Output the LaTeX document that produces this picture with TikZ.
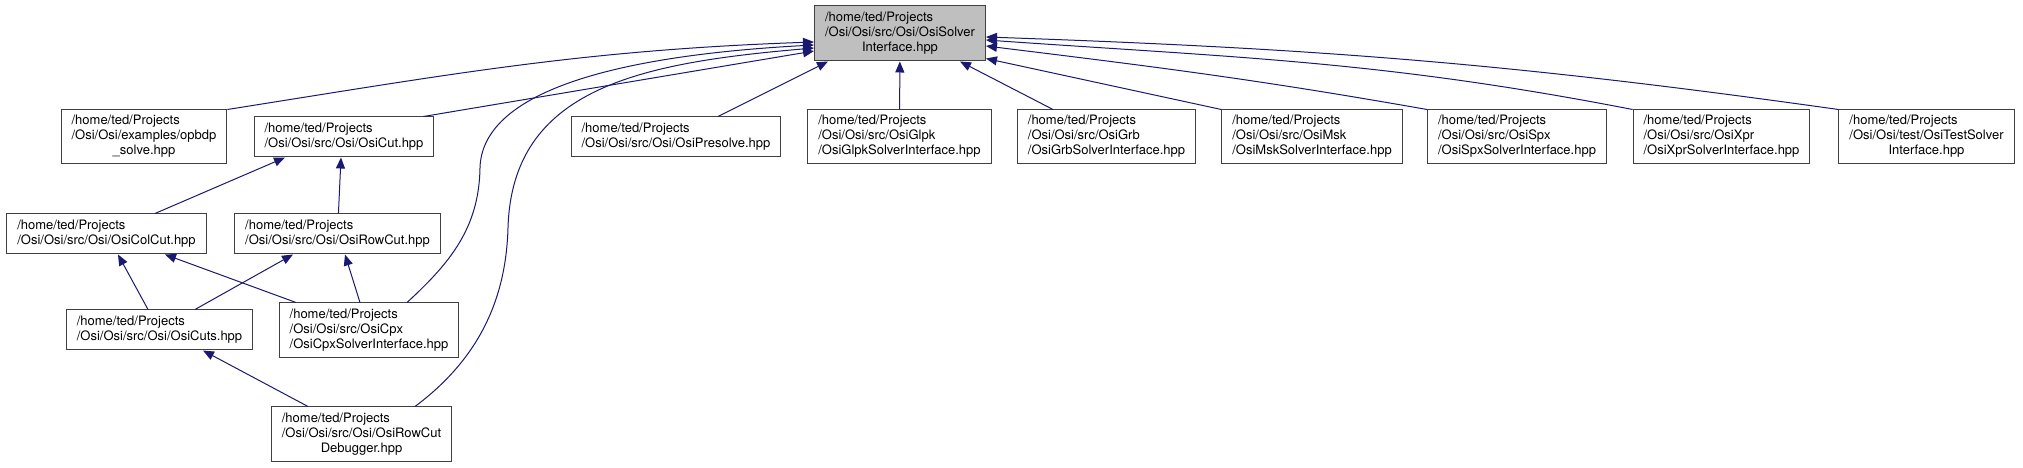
\documentclass[tikz,border=0pt]{standalone}
\usepackage{fontspec}
\setmainfont{TeX Gyre Heros}
\usepackage{tikz}
\usetikzlibrary{arrows.meta}
\usepackage{xcolor}
\definecolor{edgeblue}{HTML}{191970}
\definecolor{rootgray}{HTML}{BFBFBF}
\definecolor{boxline}{HTML}{404040}
\newcommand{\hdr}[1]{\begin{tabular}{@{}l@{}}#1\end{tabular}}
\newcommand{\ctr}[1]{\multicolumn{1}{@{}c@{}}{#1}}

\begin{document}
\begin{tikzpicture}[
  x=1pt, y=1pt,
  file/.style={draw=boxline, line width=1pt, fill=white, inner xsep=10.5pt, inner ysep=0pt, font=\fontsize{13}{15}\selectfont},
  file2/.style={file, minimum height=40pt},
  file3/.style={file, minimum height=54pt},
  dep/.style={draw=edgeblue, line width=1pt, -{Triangle[length=11pt, width=9pt]}},
]
  \useasboundingbox (0,0) rectangle (2023,468);

  % Row 0: the included header
  \node[file3, fill=rootgray, minimum height=55pt] (solver) at (900,434.5) {\hdr{/home/ted/Projects\\/Osi/Osi/src/Osi/OsiSolver\\\ctr{Interface.hpp}}};

  % Row 1: direct includers
  \node[file3] (opbdp) at (144,331) {\hdr{/home/ted/Projects\\/Osi/Osi/examples/opbdp\\\ctr{\_solve.hpp}}};
  \node[file2] (cut) at (344,331) {\hdr{/home/ted/Projects\\/Osi/Osi/src/Osi/OsiCut.hpp}};
  \node[file2] (presolve) at (676,331) {\hdr{/home/ted/Projects\\/Osi/Osi/src/Osi/OsiPresolve.hpp}};
  \node[file3] (glpk) at (899.5,331) {\hdr{/home/ted/Projects\\/Osi/Osi/src/OsiGlpk\\/OsiGlpkSolverInterface.hpp}};
  \node[file3] (grb) at (1106.5,331) {\hdr{/home/ted/Projects\\/Osi/Osi/src/OsiGrb\\/OsiGrbSolverInterface.hpp}};
  \node[file3] (msk) at (1312,331) {\hdr{/home/ted/Projects\\/Osi/Osi/src/OsiMsk\\/OsiMskSolverInterface.hpp}};
  \node[file3] (spx) at (1517,331) {\hdr{/home/ted/Projects\\/Osi/Osi/src/OsiSpx\\/OsiSpxSolverInterface.hpp}};
  \node[file3] (xpr) at (1721.5,331) {\hdr{/home/ted/Projects\\/Osi/Osi/src/OsiXpr\\/OsiXprSolverInterface.hpp}};
  \node[file3] (test) at (1926.5,331) {\hdr{/home/ted/Projects\\/Osi/Osi/test/OsiTestSolver\\\ctr{Interface.hpp}}};

  % Row 2: cut headers
  \node[file2] (colcut) at (106.5,234) {\hdr{/home/ted/Projects\\/Osi/Osi/src/Osi/OsiColCut.hpp}};
  \node[file2] (rowcut) at (337.5,234) {\hdr{/home/ted/Projects\\/Osi/Osi/src/Osi/OsiRowCut.hpp}};

  % Row 3: cuts + cplex
  \node[file2] (cuts) at (159.5,138) {\hdr{/home/ted/Projects\\/Osi/Osi/src/Osi/OsiCuts.hpp}};
  \node[file3, minimum height=55pt] (cpx) at (369,137.5) {\hdr{/home/ted/Projects\\/Osi/Osi/src/OsiCpx\\/OsiCpxSolverInterface.hpp}};

  % Row 4: debugger
  \node[file3, minimum height=55pt] (dbg) at (361.5,33.5) {\hdr{/home/ted/Projects\\/Osi/Osi/src/Osi/OsiRowCut\\\ctr{Debugger.hpp}}};

  % Edges into the solver interface
  \draw[dep] (opbdp.north east) to[out=9, in=182] ([yshift=-8.5pt]solver.west);
  \draw[dep] ([xshift=-11pt]cut.north east) -- ([yshift=-17.5pt]solver.west);
  \draw[dep] ([xshift=38pt]cpx.north) .. controls (450,205) and (479,240) .. (480,300)
    .. controls (482,375) and (610,412) .. ([yshift=-11.5pt]solver.west);
  \draw[dep] ([xshift=53.5pt]dbg.north) .. controls (480,110) and (506,170) .. (508,240)
    .. controls (512,380) and (640,405) .. ([yshift=-14.5pt]solver.west);
  \draw[dep] ([xshift=42pt]presolve.north) -- ([xshift=-72pt]solver.south);
  \draw[dep] (glpk) -- (solver);
  \draw[dep] ([xshift=-53.5pt]grb.north) -- ([xshift=60pt]solver.south);
  \draw[dep] (msk.north west) -- ([yshift=3pt]solver.south east);
  \draw[dep] (spx.north west) to[out=170, in=-7] ([yshift=-12.5pt]solver.east);
  \draw[dep] (xpr.north west) to[out=169, in=-4] ([yshift=-6.5pt]solver.east);
  \draw[dep] (test.north west) to[out=172, in=-2] ([yshift=-3.5pt]solver.east);

  % Edges between the cut headers
  \draw[dep] ([xshift=48.5pt]colcut.north) -- ([xshift=-59pt]cut.south);
  \draw[dep] (rowcut) -- ([xshift=-3pt]cut.south);
  \draw[dep] ([xshift=-11.5pt]cuts.north) -- ([xshift=11.5pt]colcut.south);
  \draw[dep] ([xshift=35.5pt]cuts.north) -- ([xshift=-44.5pt]rowcut.south);
  \draw[dep] ([xshift=-73pt]cpx.north) -- ([xshift=58.5pt]colcut.south);
  \draw[dep] ([xshift=-9pt]cpx.north) -- ([xshift=7.5pt]rowcut.south);
  \draw[dep] ([xshift=-53.5pt]dbg.north) -- ([xshift=43.5pt]cuts.south);
\end{tikzpicture}
\end{document}
